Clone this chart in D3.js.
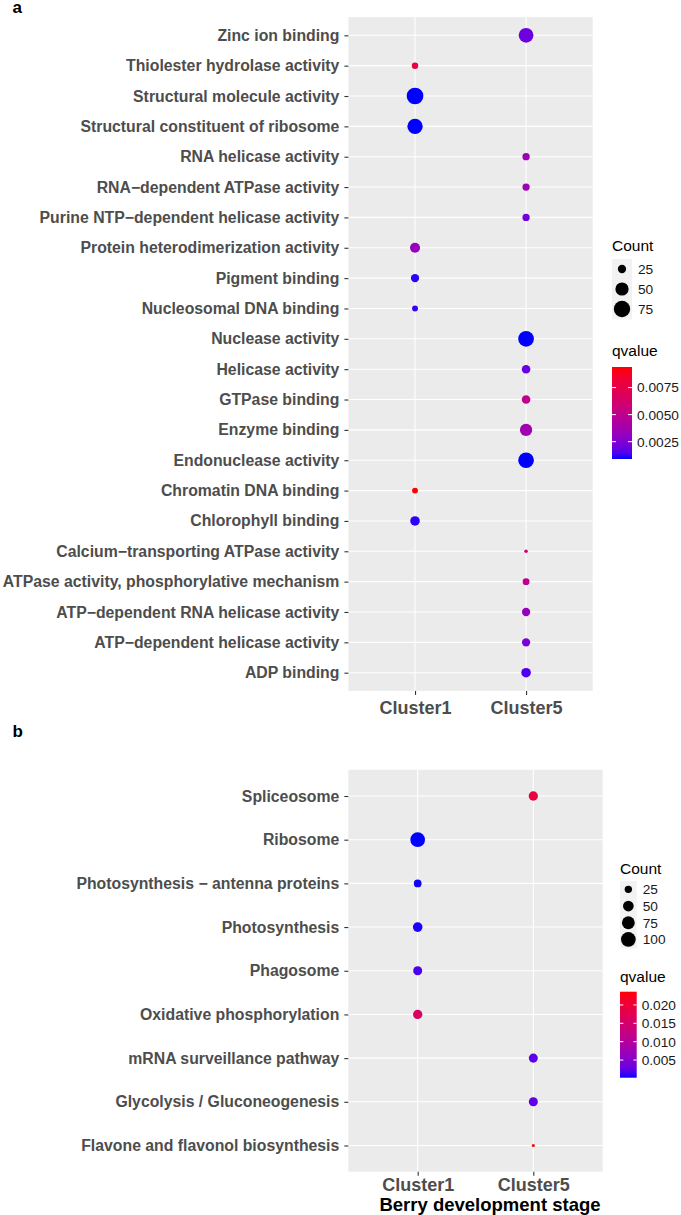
<!DOCTYPE html>
<html><head><meta charset="utf-8">
<script src="https://cdn.jsdelivr.net/npm/d3@7"></script>
<style>
body{margin:0;background:#fff}
svg{display:block}
text{font-family:"Liberation Sans",Arial,Helvetica,sans-serif}
</style>
</head><body>
<svg id="chart" width="681" height="1215"></svg>
<script>
// ---------------- DATA ----------------
const clusters = ["Cluster1", "Cluster5"];

const termsA = [
  "Zinc ion binding", "Thiolester hydrolase activity", "Structural molecule activity",
  "Structural constituent of ribosome", "RNA helicase activity", "RNA\u2212dependent ATPase activity",
  "Purine NTP\u2212dependent helicase activity", "Protein heterodimerization activity", "Pigment binding",
  "Nucleosomal DNA binding", "Nuclease activity", "Helicase activity", "GTPase binding",
  "Enzyme binding", "Endonuclease activity", "Chromatin DNA binding", "Chlorophyll binding",
  "Calcium\u2212transporting ATPase activity", "ATPase activity, phosphorylative mechanism",
  "ATP\u2212dependent RNA helicase activity", "ATP\u2212dependent helicase activity", "ADP binding"
];
const clusterA = [
  "Cluster5", "Cluster1", "Cluster1", "Cluster1", "Cluster5", "Cluster5", "Cluster5", "Cluster1",
  "Cluster1", "Cluster1", "Cluster5", "Cluster5", "Cluster5", "Cluster5", "Cluster5", "Cluster1",
  "Cluster1", "Cluster5", "Cluster5", "Cluster5", "Cluster5", "Cluster5"
];
const countA = [61, 20, 78, 66, 22, 22, 22, 32, 25, 19, 69, 26, 26, 44, 69, 19, 30, 17, 21, 25, 25, 30];
const qvalueA = [0.0020, 0.0077, 0.0009, 0.0009, 0.0035, 0.0035, 0.0021, 0.0033, 0.0011, 0.0012, 0.0009,
  0.0019, 0.0050, 0.0036, 0.0009, 0.0094, 0.0011, 0.0062, 0.0049, 0.0032, 0.0023, 0.0014];

const termsB = [
  "Spliceosome", "Ribosome", "Photosynthesis \u2212 antenna proteins", "Photosynthesis", "Phagosome",
  "Oxidative phosphorylation", "mRNA surveillance pathway", "Glycolysis / Gluconeogenesis",
  "Flavone and flavonol biosynthesis"
];
const clusterB = ["Cluster5", "Cluster1", "Cluster1", "Cluster1", "Cluster1", "Cluster1", "Cluster5", "Cluster5", "Cluster5"];
const countB = [38, 100, 27, 41, 36, 38, 36, 36, 13];
const qvalueB = [0.0194, 0.0002, 0.0003, 0.0004, 0.0016, 0.0161, 0.0023, 0.0025, 0.0236];

const sizeBreaksA = [25, 50, 75];
const sizeBreaksB = [25, 50, 75, 100];
const qBreaksA = [0.0025, 0.0050, 0.0075];
const qLabelsA = ["0.0025", "0.0050", "0.0075"];
const qBreaksB = [0.005, 0.010, 0.015, 0.020];
const qLabelsB = ["0.005", "0.010", "0.015", "0.020"];

// ---------------- DRAW ----------------
const svg = d3.select("#chart");
svg.append("rect").attr("width", 681).attr("height", 1215).attr("fill", "#fff");

function drawPanel(o) {
  const g = svg.append("g");
  const x = d3.scalePoint().domain(clusters).range([o.left, o.right]).padding(0.6);
  const y = d3.scalePoint().domain(o.terms).range([o.top, o.bottom]).padding(0.6);

  const norm = d3.scaleLinear().domain(d3.extent(o.count)).range([0, 1]).clamp(true);
  const sizeMM = d3.scaleLinear().domain([0, 1]).range([1, 6]);
  const radius = v => o.k * (sizeMM(Math.sqrt(norm(v))) + 0.33) / 2;
  const qext = d3.extent(o.q);
  const color = d3.scaleLinear().domain(qext).range(["blue", "red"]).interpolate(d3.interpolateLab);

  // panel background
  g.append("rect").attr("x", o.left).attr("y", o.top).attr("width", o.right - o.left)
    .attr("height", o.bottom - o.top).attr("fill", "#EBEBEB");
  // grid
  g.append("g").selectAll("line").data(o.terms).join("line")
    .attr("x1", o.left).attr("x2", o.right).attr("y1", d => y(d)).attr("y2", d => y(d))
    .attr("stroke", "#fff").attr("stroke-width", 1.1);
  g.append("g").selectAll("line").data(clusters).join("line")
    .attr("y1", o.top).attr("y2", o.bottom).attr("x1", d => x(d)).attr("x2", d => x(d))
    .attr("stroke", "#fff").attr("stroke-width", 1.1);

  // points
  const rows = o.terms.map((t, i) => ({ term: t, cl: o.cluster[i], n: o.count[i], q: o.q[i] }));
  g.append("g").selectAll("circle").data(rows).join("circle")
    .attr("cx", d => x(d.cl)).attr("cy", d => y(d.term)).attr("r", d => radius(d.n))
    .attr("fill", d => color(d.q));

  // y axis
  const ya = g.append("g").attr("transform", `translate(${o.left},0)`)
    .call(d3.axisLeft(y).tickSize(4).tickPadding(5));
  ya.select(".domain").remove();
  ya.selectAll(".tick line").attr("stroke", "#333").attr("stroke-width", 1.1);
  ya.selectAll(".tick text").attr("fill", "#4D4D4D").style("font-size", "15.8px")
    .style("font-weight", "bold").style("font-family", '"Liberation Sans",Arial,sans-serif');

  // x axis
  const xa = g.append("g").attr("transform", `translate(0,${o.bottom})`)
    .call(d3.axisBottom(x).tickSize(4).tickPadding(o.xPad));
  xa.select(".domain").remove();
  xa.selectAll(".tick line").attr("stroke", "#333").attr("stroke-width", 1.1);
  xa.selectAll(".tick text").attr("fill", "#4D4D4D").style("font-size", "18px")
    .style("font-weight", "bold").style("font-family", '"Liberation Sans",Arial,sans-serif');

  // tag
  g.append("text").attr("x", 12.5).attr("y", o.tagY).text(o.tag)
    .style("font-size", "17px").style("font-weight", "bold").attr("fill", "#000");

  // size legend
  const L = o.sizeLeg;
  g.append("text").attr("x", L.x).attr("y", L.titleY).text("Count")
    .style("font-size", "15.5px").attr("fill", "#000");
  L.breaks.forEach((b, i) => {
    const cy = L.top + L.keyH * (i + 0.5);
    g.append("rect").attr("x", L.x).attr("y", L.top + L.keyH * i).attr("width", L.keyW)
      .attr("height", L.keyH + 0.5).attr("fill", "#F2F2F2");
    g.append("circle").attr("cx", L.x + L.keyW / 2).attr("cy", cy).attr("r", radius(b)).attr("fill", "#000");
    g.append("text").attr("x", L.x + L.keyW + 6).attr("y", cy).attr("dy", "0.36em").text(b)
      .style("font-size", "13.7px").attr("fill", "#1A1A1A");
  });

  // colour legend
  const C = o.colLeg;
  g.append("text").attr("x", C.x).attr("y", C.titleY).text("qvalue")
    .style("font-size", "15.5px").attr("fill", "#000");
  const gid = "grad" + o.tag;
  const grad = svg.append("defs").append("linearGradient").attr("id", gid)
    .attr("x1", 0).attr("y1", 1).attr("x2", 0).attr("y2", 0);
  d3.range(0, 1.0001, 0.05).forEach(t => {
    grad.append("stop").attr("offset", t).attr("stop-color", color(qext[0] + t * (qext[1] - qext[0])));
  });
  g.append("rect").attr("x", C.x).attr("y", C.top).attr("width", C.w).attr("height", C.bottom - C.top)
    .attr("fill", `url(#${gid})`);
  const cy = d3.scaleLinear().domain(qext).range([C.bottom, C.top]);
  o.qBreaks.forEach((b, i) => {
    const yy = cy(b);
    g.append("line").attr("x1", C.x).attr("x2", C.x + C.w / 5).attr("y1", yy).attr("y2", yy)
      .attr("stroke", "#fff").attr("stroke-width", 1);
    g.append("line").attr("x1", C.x + C.w * 4 / 5).attr("x2", C.x + C.w).attr("y1", yy).attr("y2", yy)
      .attr("stroke", "#fff").attr("stroke-width", 1);
    g.append("text").attr("x", C.x + C.w + 5).attr("y", yy).attr("dy", "0.36em").text(o.qLabels[i])
      .style("font-size", "13.7px").attr("fill", "#1A1A1A");
  });

  if (o.xTitle) {
    g.append("text").attr("x", o.xTitleX).attr("y", o.xTitleY).attr("text-anchor", "middle")
      .text(o.xTitle).style("font-size", "18.5px").style("font-weight", "bold").attr("fill", "#000");
  }
}

drawPanel({
  tag: "a", tagY: 13,
  terms: termsA, cluster: clusterA, count: countA, q: qvalueA,
  left: 348.4, right: 592.7, top: 17.1, bottom: 690.9, k: 2.64, xPad: 6.5,
  sizeLeg: { x: 612, titleY: 251, top: 259, keyH: 20, keyW: 20, breaks: sizeBreaksA },
  colLeg: { x: 612, titleY: 356, top: 367, bottom: 459, w: 20 },
  qBreaks: qBreaksA, qLabels: qLabelsA
});

drawPanel({
  tag: "b", tagY: 737,
  terms: termsB, cluster: clusterB, count: countB, q: qvalueB,
  left: 348.3, right: 602.7, top: 769.8, bottom: 1171.7, k: 2.32, xPad: 3,
  sizeLeg: { x: 620, titleY: 874, top: 881, keyH: 16.7, keyW: 16.7, breaks: sizeBreaksB },
  colLeg: { x: 620, titleY: 982, top: 991.7, bottom: 1077.7, w: 16.7 },
  qBreaks: qBreaksB, qLabels: qLabelsB,
  xTitle: "Berry development stage", xTitleX: 490, xTitleY: 1211
});
</script>
</body></html>
